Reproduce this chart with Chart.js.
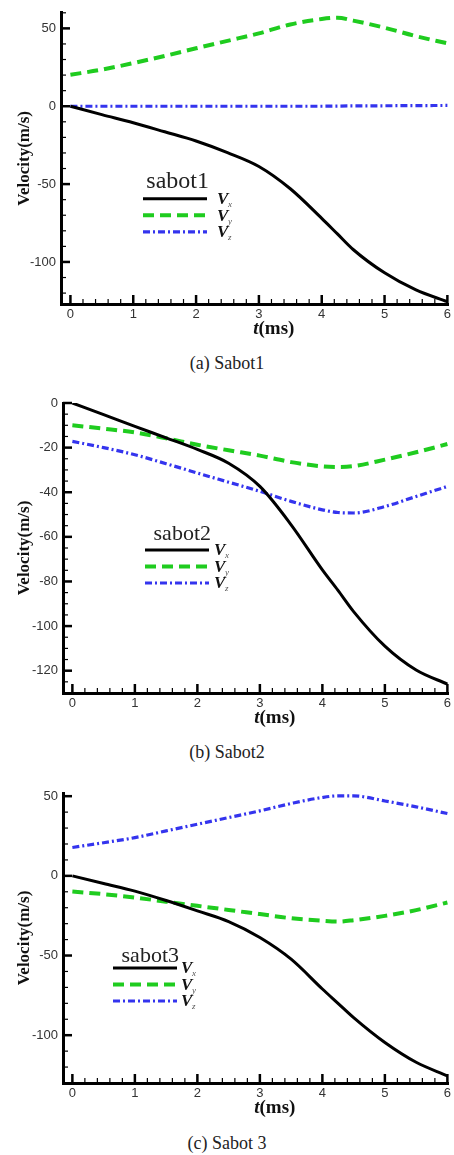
<!DOCTYPE html>
<html lang="en">
<head>
<meta charset="UTF-8">
<title>Sabot velocity components</title>
<script src="https://cdn.jsdelivr.net/npm/chart.js"></script>
<style>
  body { margin: 0; background: #fff; width: 454px; height: 1155px; position: relative; overflow: hidden; }
  .panel { position: absolute; left: 0; width: 454px; }
  .caption { position: absolute; left: 0; width: 454px; text-align: center; line-height: 22px;
             font-family: "Liberation Serif", "Times New Roman", serif; font-size: 18px; color: #222; }
</style>
</head>
<body>
  <div class="panel" style="top:0px;height:340px"><canvas id="c1"></canvas></div>
  <div class="caption" style="top:352px">(a) Sabot1</div>
  <div class="panel" style="top:385px;height:345px"><canvas id="c2"></canvas></div>
  <div class="caption" style="top:741px">(b) Sabot2</div>
  <div class="panel" style="top:775px;height:345px"><canvas id="c3"></canvas></div>
  <div class="caption" style="top:1132px">(c) Sabot 3</div>

<script>
// time samples (ms)
const timeMs = [0, 0.5, 1, 1.5, 2, 2.5, 3, 3.5, 4, 4.25, 4.5, 5, 5.5, 6];

// sabot 1
const sabot1Vx = [0, -5.4, -10.6, -16.4, -22.3, -29.8, -38.7, -53, -72, -82, -92, -107, -118, -125.5];
const sabot1Vy = [20.2, 23.5, 27.7, 32.3, 37.2, 42, 46.8, 52.5, 56, 56.8, 55, 50.4, 45, 40.4];
const sabot1Vz = [0, 0, 0, 0, 0, 0, 0, 0, 0, 0.1, 0.2, 0.3, 0.4, 0.5];

// sabot 2
const sabot2Vx = [0, -5.2, -10.5, -15.6, -20.8, -27, -37.4, -54.6, -74.8, -84, -93.5, -109, -119.7, -126];
const sabot2Vy = [-10, -11.5, -13.2, -15.8, -18.7, -21.2, -23.6, -26.5, -28.4, -28.7, -28.3, -25.4, -22.1, -18.4];
const sabot2Vz = [-17.2, -20, -23.2, -27.2, -31.4, -35.5, -39.6, -44.1, -47.9, -49.1, -49.3, -46.4, -41.9, -37.4];

// sabot 3
const sabot3Vx = [0, -4.8, -9.6, -15.5, -22, -28.7, -38.7, -52.3, -71, -80, -89, -104.6, -117, -125.5];
const sabot3Vy = [-9.8, -11.5, -13.6, -16.2, -18.8, -21.4, -24, -26.6, -28.2, -28.7, -27.8, -25.1, -21.5, -16.7];
const sabot3Vz = [17.8, 20.8, 24, 28.2, 32.4, 36.6, 40.8, 45.4, 49.2, 50.2, 50.2, 47, 43.3, 39.1];

const seriesNames = ['x', 'y', 'z'];
const xTickLabels = [0, 1, 2, 3, 4, 5, 6];

const styles = [
  { color: '#000000', width: 3, dash: [] },
  { color: '#1fcc1f', width: 4, dash: [11, 6] },
  { color: '#3434ee', width: 3.2, dash: [7, 3, 2, 3] }
];

const serif = '"Liberation Serif", "Times New Roman", serif';

// axis ticks inside the box, axis titles and the tecplot-like legend
const decorPlugin = {
  id: 'decor',
  afterDraw(chart, args, o) {
    const ctx = chart.ctx, a = chart.chartArea;
    const xs = chart.scales.x, ys = chart.scales.y;
    ctx.save();
    ctx.strokeStyle = '#000';
    for (let i = 0; i <= 30; i++) {
      const v = i / 5, major = i % 5 === 0;
      const px = xs.getPixelForValue(v);
      ctx.lineWidth = major ? 2.5 : 1.2;
      ctx.beginPath();
      ctx.moveTo(px, a.bottom);
      ctx.lineTo(px, a.bottom - (major ? 9 : 5));
      ctx.stroke();
    }
    const start = Math.ceil(ys.min / o.minor) * o.minor;
    for (let v = start; v <= ys.max + 1e-6; v += o.minor) {
      const major = Math.abs(v % o.major) < 1e-6;
      const py = ys.getPixelForValue(v);
      ctx.lineWidth = major ? 2.5 : 1.2;
      ctx.beginPath();
      ctx.moveTo(a.left, py);
      ctx.lineTo(a.left + (major ? 9 : 5), py);
      ctx.stroke();
    }

    // y title
    ctx.fillStyle = '#111';
    ctx.font = 'bold 17px ' + serif;
    ctx.textAlign = 'center';
    ctx.textBaseline = 'middle';
    ctx.translate(25, (a.top + a.bottom) / 2);
    ctx.rotate(-Math.PI / 2);
    ctx.fillText('Velocity(m/s)', 0, 0);
    ctx.setTransform(1, 0, 0, 1, 0, 0);
    ctx.scale(chart.currentDevicePixelRatio, chart.currentDevicePixelRatio);

    // x title: t(ms)
    ctx.textBaseline = 'alphabetic';
    ctx.textAlign = 'left';
    ctx.font = 'bold italic 19px ' + serif;
    const tw = ctx.measureText('t').width;
    ctx.font = 'bold 19px ' + serif;
    const mw = ctx.measureText('(ms)').width;
    const cx = (a.left + a.right) / 2 + 19 - (tw + mw) / 2;
    const by = a.bottom + 30;
    ctx.font = 'bold italic 19px ' + serif;
    ctx.fillText('t', cx, by);
    ctx.font = 'bold 19px ' + serif;
    ctx.fillText('(ms)', cx + tw, by);

    // legend
    const lg = o.legend;
    const lx = a.left + lg.x, ly = a.top + lg.y;
    const len = 64;
    ctx.font = lg.size + 'px ' + serif;
    ctx.textAlign = 'right';
    ctx.fillStyle = '#222';
    ctx.fillText(lg.title, lx + len + 2, ly + lg.titleDy);
    chart.data.datasets.forEach((ds, i) => {
      const y = ly + i * 16.5;
      ctx.strokeStyle = ds.borderColor;
      ctx.lineWidth = ds.borderWidth;
      ctx.setLineDash(ds.borderDash);
      ctx.beginPath();
      ctx.moveTo(lx, y);
      ctx.lineTo(lx + len, y);
      ctx.stroke();
      ctx.setLineDash([]);
      ctx.textAlign = 'left';
      ctx.textBaseline = 'middle';
      ctx.fillStyle = '#111';
      ctx.font = 'bold italic 17px ' + serif;
      ctx.fillText('V', lx + len + lg.gap, y + 1);
      ctx.fillStyle = '#555';
      ctx.font = 'italic 9px ' + serif;
      ctx.fillText(seriesNames[i], lx + len + lg.gap + 11, y + 6);
    });
    ctx.restore();
  }
};

function makeChart(id, vx, vy, vz, ax) {
  const vals = [vx, vy, vz];
  const datasets = vals.map((arr, i) => ({
    label: 'V' + seriesNames[i],
    data: timeMs.map((t, k) => ({ x: t, y: arr[k] })),
    borderColor: styles[i].color,
    borderWidth: styles[i].width,
    borderDash: styles[i].dash,
    pointRadius: 0,
    fill: false,
    cubicInterpolationMode: 'monotone'
  }));
  return new Chart(document.getElementById(id), {
    type: 'line',
    data: { datasets: datasets },
    options: {
      responsive: true,
      maintainAspectRatio: false,
      animation: false,
      layout: { padding: { top: ax.top, right: 2, left: 0, bottom: 0 } },
      plugins: {
        legend: { display: false },
        tooltip: { enabled: false },
        decor: { major: ax.step, minor: ax.minor, legend: ax.legend }
      },
      scales: {
        x: {
          type: 'linear',
          min: -0.15,
          max: 6.02,
          afterFit: s => { s.height = ax.xh; },
          afterBuildTicks: s => { s.ticks = xTickLabels.map(v => ({ value: v })); },
          grid: { drawOnChartArea: false, drawTicks: false },
          border: { color: '#000', width: 3 },
          ticks: { padding: 3, color: '#333', font: { family: '"Liberation Sans", Arial, sans-serif', size: 13 } }
        },
        y: {
          min: ax.min,
          max: ax.max,
          afterFit: s => { s.width = ax.left; },
          afterBuildTicks: s => { s.ticks = ax.ticks.map(v => ({ value: v })); },
          grid: { drawOnChartArea: false, drawTicks: false },
          border: { color: '#000', width: 3 },
          ticks: { padding: 5, color: '#333', font: { family: '"Liberation Sans", Arial, sans-serif', size: 13 } }
        }
      }
    },
    plugins: [decorPlugin]
  });
}

makeChart('c1', sabot1Vx, sabot1Vy, sabot1Vz, {
  min: -127, max: 60, step: 50, minor: 10, ticks: [-100, -50, 0, 50],
  top: 10, left: 61, xh: 36,
  legend: { title: 'sabot1', size: 24, x: 82, y: 186, titleDy: -11, gap: 10 }
});
makeChart('c2', sabot2Vx, sabot2Vy, sabot2Vz, {
  min: -130, max: 0, step: 20, minor: 5, ticks: [-120, -100, -80, -60, -40, -20, 0],
  top: 18, left: 63, xh: 37,
  legend: { title: 'sabot2', size: 22, x: 82, y: 147, titleDy: -10, gap: 5 }
});
makeChart('c3', sabot3Vx, sabot3Vy, sabot3Vz, {
  min: -130, max: 52, step: 50, minor: 10, ticks: [-100, -50, 0, 50],
  top: 18, left: 63, xh: 37,
  legend: { title: 'sabot3', size: 22, x: 50, y: 175, titleDy: -6, gap: 4 }
});
</script>
</body>
</html>
